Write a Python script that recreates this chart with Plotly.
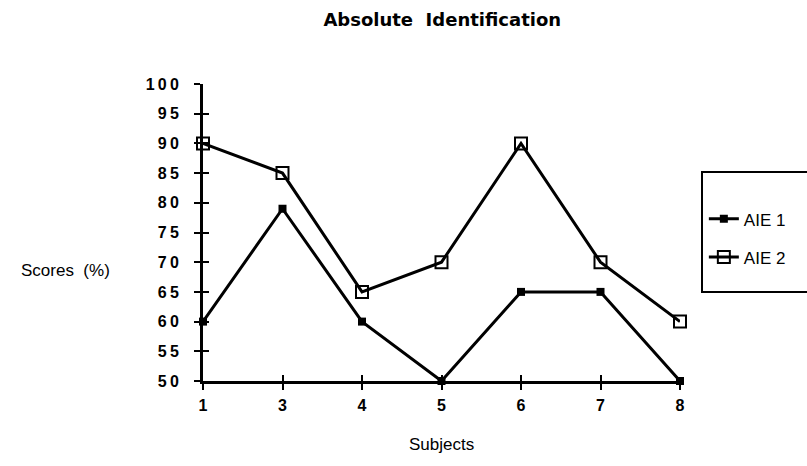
import plotly.graph_objects as go

subjects = ["1", "3", "4", "5", "6", "7", "8"]
aie1 = [60, 79, 60, 50, 65, 65, 50]
aie2 = [90, 85, 65, 70, 90, 70, 60]
y_ticks = [50, 55, 60, 65, 70, 75, 80, 85, 90, 95, 100]
y_ticktext = ["5\u20090", "5\u20095", "6\u20090", "6\u20095", "7\u20090", "7\u20095",
              "8\u20090", "8\u20095", "9\u20090", "9\u20095", "1\u20090\u20090"]

FONT = "Liberation Sans, Arial, sans-serif"

fig = go.Figure()
fig.add_trace(go.Scatter(
    x=subjects, y=aie1, name="AIE 1", mode="lines+markers",
    line=dict(color="black", width=3),
    marker=dict(symbol="square", size=8, color="black"),
    cliponaxis=False, legendgroup="a",
))
fig.add_trace(go.Scatter(
    x=subjects, y=aie2, name="AIE 2", mode="lines+markers",
    line=dict(color="black", width=3),
    marker=dict(symbol="square-open", size=12, color="black", line=dict(width=2)),
    cliponaxis=False, legendgroup="b",
))
# dummy trace to draw the inner half of the crossing ticks
fig.add_trace(go.Scatter(
    x=subjects, y=[None] * len(subjects), xaxis="x2", yaxis="y2",
    showlegend=False, hoverinfo="skip", mode="lines",
))

axis_common = dict(showgrid=False, zeroline=False, ticklen=6, tickwidth=2, tickcolor="black")
tickfont = dict(family=FONT, size=16, color="black", weight="bold")

fig.update_layout(
    width=807, height=466,
    margin=dict(l=203, r=127, t=84, b=85),
    paper_bgcolor="white", plot_bgcolor="white",
    showlegend=True,
    title=dict(text="<b>Absolute  Identification</b>", x=0.548, xanchor="center",
               y=0.958, yanchor="middle",
               font=dict(family="DejaVu Sans, sans-serif", size=18, color="black")),
    xaxis=dict(type="category", categoryorder="array", categoryarray=subjects,
               range=[0, 6], showline=True, linewidth=3, linecolor="black",
               ticks="outside", tickfont=tickfont, ticklabelstandoff=2,
               **axis_common),
    yaxis=dict(range=[50, 100], tickvals=y_ticks, ticktext=y_ticktext,
               showline=True, linewidth=3, linecolor="black",
               ticks="outside", tickfont=tickfont, ticklabelstandoff=12,
               **axis_common),
    xaxis2=dict(type="category", categoryorder="array", categoryarray=subjects,
                range=[0, 6], overlaying="x", showline=False, ticks="inside",
                showticklabels=False, anchor="y2", side="bottom", **axis_common),
    yaxis2=dict(range=[50, 100], tickvals=y_ticks, overlaying="y", showline=False,
                ticks="inside", showticklabels=False, anchor="x2", side="left", **axis_common),
    legend=dict(x=1.05, y=0.605, xanchor="left", yanchor="top",
                bgcolor="rgba(0,0,0,0)", borderwidth=0,
                tracegroupgap=13, traceorder="grouped", itemwidth=30,
                font=dict(family=FONT, size=17, color="black")),
    shapes=[dict(type="rect", xref="paper", yref="paper",
                 x0=(702 - 203) / 477, x1=1.35,
                 y0=(381 - 292) / 297, y1=(381 - 172) / 297,
                 line=dict(color="black", width=2), fillcolor="rgba(0,0,0,0)")],
    annotations=[
        dict(text="Scores  (%)", xref="paper", yref="paper",
             x=(65 - 203) / 477, y=(381 - 270) / 297, xanchor="center", yanchor="middle",
             showarrow=False, font=dict(family=FONT, size=17, color="black")),
        dict(text="Subjects", xref="paper", yref="paper",
             x=(441 - 203) / 477, y=(381 - 444) / 297, xanchor="center", yanchor="middle",
             showarrow=False, font=dict(family=FONT, size=17, color="black")),
    ],
)

fig.write_html("out.html")
